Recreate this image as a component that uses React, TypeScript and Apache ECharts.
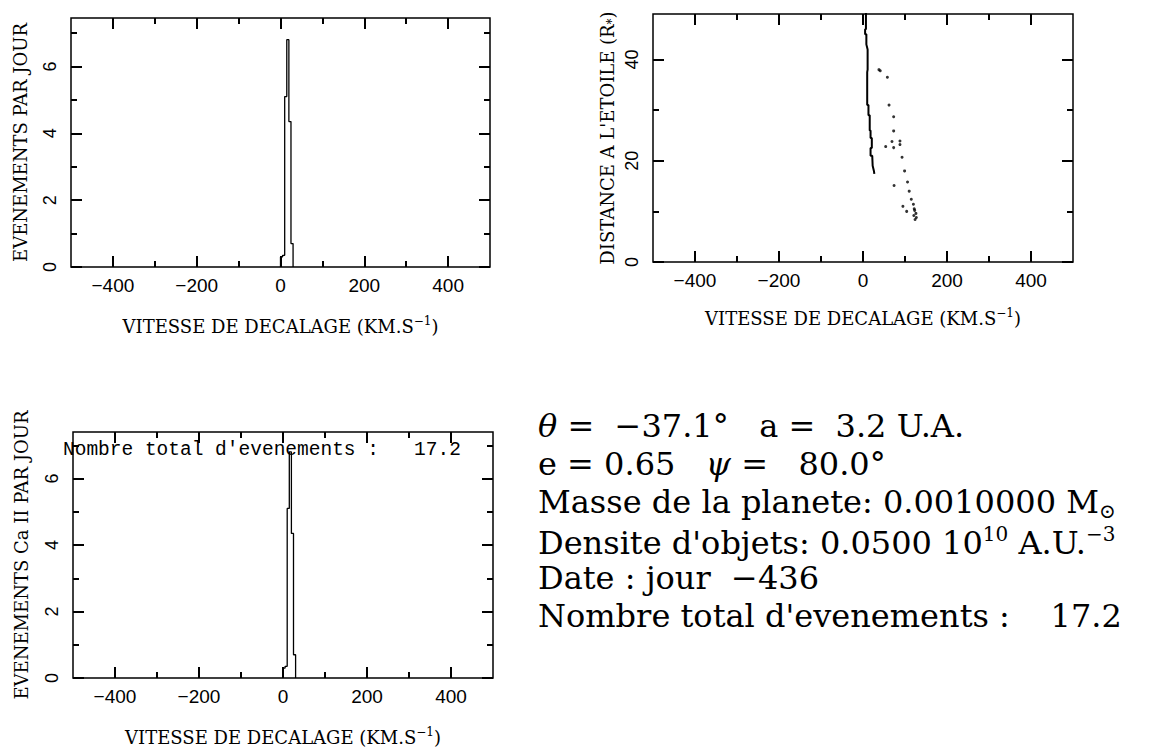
import React, { useEffect, useRef } from "react";
import * as echarts from "echarts";

// ---------- data ----------
const binEdges = [0, 5, 10, 15, 20, 25, 30];
const countsTop = [0.3, 0.35, 5.1, 6.8, 4.35, 0.7];
const countsCaII = [0.3, 0.35, 5.1, 6.8, 4.35, 0.7];

const velocityRange = [-500, 500];
const eventRange = [0, 7.45];
const eventRangeCaII = [0, 7.4];
const distanceRange = [0, 49];

const velocityMajorTicks = [-400, -200, 0, 200, 400];
const velocityMinorTicks = [-300, -100, 100, 300];
const eventMajorTicks = [0, 2, 4, 6];
const eventMinorTicks = [1, 3, 5, 7];
const distanceMajorTicks = [0, 20, 40];
const distanceMinorTicks = [10, 30];

// dense track of points (velocity km/s, distance R*)
const trackVelocity = [7, 7, 5, 5, 8, 8, 11, 11, 10, 10, 13, 13, 16, 16, 18, 18, 21, 21, 18, 18, 22, 23, 26, 27];
const trackDistance = [49.3, 46, 46, 45, 45, 43, 42, 38, 37.5, 31, 31, 29, 29, 26, 26, 24.5, 24.5, 22.5, 22.5, 21, 21, 19, 18, 17.4];

// isolated points
const dotVelocity = [38, 41, 58, 62, 73, 73, 54, 69, 73, 88, 88, 93, 99, 74, 106, 110, 115, 95, 120, 104, 123, 126, 121, 127, 124, 122];
const dotDistance = [38, 37.8, 36.5, 31, 28.7, 25.9, 22.8, 23.8, 22.6, 23.9, 23.2, 20.7, 18, 15.1, 15.8, 14, 12.4, 11, 11.4, 10, 10.2, 9.6, 9.2, 8.8, 8.4, 10.5];

const infoLines = [
  "{it|θ} =  −37.1°   a =  3.2 U.A.",
  "e = 0.65   {it|ψ} =   80.0°",
  "Masse de la planete: 0.0010000 M{sub|⊙}",
  "Densite d'objets: 0.0500 10{sup|10} A.U.{sup|−3}",
  "Date : jour  −436",
  "Nombre total d'evenements :    17.2",
];
const insetText = "Nombre total d'evenements :   17.2";

// ---------- layout ----------
const gridBoxes = [
  { left: 71, top: 18, width: 419, height: 249 },
  { left: 653, top: 14, width: 420, height: 248 },
  { left: 73, top: 432, width: 420, height: 246 },
];

// ---------- helpers ----------
const BLACK = "#000";
const tickFont = "Liberation Sans";
const titleFont = "DejaVu Serif";
const MAJOR_LEN = 11;
const MINOR_LEN = 6;
const TICK_W = 2;

function stepPoints(edges: number[], counts: number[]) {
  const pts: number[][] = [[edges[0], 0]];
  counts.forEach((c, i) => {
    pts.push([edges[i], c]);
    pts.push([edges[i + 1], c]);
  });
  pts.push([edges[edges.length - 1], 0]);
  return pts;
}

const fmt = (v: number) => (v < 0 ? "−" + Math.abs(v) : String(v));

const titleRich = {
  sup: { fontSize: 12, fontFamily: titleFont, color: BLACK, verticalAlign: "top", lineHeight: 22 },
  sub: { fontSize: 12, fontFamily: titleFont, color: BLACK, verticalAlign: "bottom", lineHeight: 22 },
};

function xAxesFor(grid: number, name: string, nameGap: number) {
  const tick = { show: true, inside: true, length: MAJOR_LEN, customValues: velocityMajorTicks, lineStyle: { color: BLACK, width: TICK_W } };
  return [
    {
      type: "value",
      gridIndex: grid,
      min: velocityRange[0],
      max: velocityRange[1],
      position: "bottom",
      splitLine: { show: false },
      axisLine: { show: false, onZero: false },
      axisTick: tick,
      axisLabel: { show: true, customValues: velocityMajorTicks, formatter: fmt, margin: 9, color: BLACK, fontFamily: tickFont, fontSize: 19 },
      name,
      nameLocation: "middle",
      nameGap,
      nameTextStyle: { fontFamily: titleFont, fontSize: 18, color: BLACK, rich: titleRich },
    },
    {
      type: "value",
      gridIndex: grid,
      min: velocityRange[0],
      max: velocityRange[1],
      position: "top",
      splitLine: { show: false },
      axisLine: { show: false, onZero: false },
      axisTick: tick,
      axisLabel: { show: false },
    },
  ];
}

function yAxesFor(grid: number, range: number[], majors: number[], name: string, nameGap: number) {
  const tick = { show: true, inside: true, length: MAJOR_LEN, customValues: majors, lineStyle: { color: BLACK, width: TICK_W } };
  return [
    {
      type: "value",
      gridIndex: grid,
      min: range[0],
      max: range[1],
      position: "left",
      splitLine: { show: false },
      axisLine: { show: false, onZero: false },
      axisTick: tick,
      axisLabel: { show: true, customValues: majors, rotate: 90, margin: 12, color: BLACK, fontFamily: tickFont, fontSize: 18 },
      name,
      nameLocation: "middle",
      nameRotate: 90,
      nameGap,
      nameTextStyle: { fontFamily: titleFont, fontSize: 18, color: BLACK, rich: titleRich },
    },
    {
      type: "value",
      gridIndex: grid,
      min: range[0],
      max: range[1],
      position: "right",
      splitLine: { show: false },
      axisLine: { show: false, onZero: false },
      axisTick: tick,
      axisLabel: { show: false },
    },
  ];
}

// minor inward ticks on all four sides, as mark lines in data coordinates
function minorTicks(grid: number, yRange: number[], yMinors: number[]) {
  const box = gridBoxes[grid];
  const xSpan = velocityRange[1] - velocityRange[0];
  const ySpan = yRange[1] - yRange[0];
  const segs: any[] = [];
  const dy = (MINOR_LEN / box.height) * ySpan;
  const dx = (MINOR_LEN / box.width) * xSpan;
  velocityMinorTicks.forEach((v) => {
    segs.push([{ coord: [v, yRange[0]] }, { coord: [v, yRange[0] + dy] }]);
    segs.push([{ coord: [v, yRange[1]] }, { coord: [v, yRange[1] - dy] }]);
  });
  yMinors.forEach((v) => {
    segs.push([{ coord: [velocityRange[0], v] }, { coord: [velocityRange[0] + dx, v] }]);
    segs.push([{ coord: [velocityRange[1], v] }, { coord: [velocityRange[1] - dx, v] }]);
  });
  return {
    silent: true,
    symbol: ["none", "none"],
    label: { show: false },
    lineStyle: { color: BLACK, width: TICK_W, type: "solid" },
    data: segs,
  };
}

export default function App() {
  const ref = useRef<HTMLDivElement>(null);

  useEffect(() => {
    if (!ref.current) return;
    const chart = echarts.init(ref.current, undefined, { renderer: "svg" });

    const track = trackVelocity.map((v, i) => [v, trackDistance[i]]);
    const dots = dotVelocity.map((v, i) => [v, dotDistance[i]]);

    const infoRich = {
      it: { fontFamily: titleFont, fontStyle: "italic", fontSize: 32, fill: BLACK },
      sup: { fontFamily: titleFont, fontSize: 20, fill: BLACK, verticalAlign: "top", lineHeight: 38 },
      sub: { fontFamily: titleFont, fontSize: 20, fill: BLACK, verticalAlign: "bottom", lineHeight: 38 },
    };

    const option: any = {
      animation: false,
      grid: gridBoxes.map((b) => ({ ...b, show: true, borderColor: BLACK, borderWidth: 1.5 })),
      xAxis: [
        ...xAxesFor(0, "VITESSE DE DECALAGE (KM.S{sup|−1})", 48),
        ...xAxesFor(1, "VITESSE DE DECALAGE (KM.S{sup|−1})", 45),
        ...xAxesFor(2, "VITESSE DE DECALAGE (KM.S{sup|−1})", 48),
      ],
      yAxis: [
        ...yAxesFor(0, eventRange, eventMajorTicks, "EVENEMENTS PAR JOUR", 42),
        ...yAxesFor(1, distanceRange, distanceMajorTicks, "DISTANCE A L'ETOILE (R{sub|*})", 35),
        ...yAxesFor(2, eventRangeCaII, eventMajorTicks, "EVENEMENTS Ca II PAR JOUR", 43),
      ],
      series: [
        {
          type: "line",
          xAxisIndex: 0,
          yAxisIndex: 0,
          data: stepPoints(binEdges, countsTop),
          symbol: "none",
          lineStyle: { color: BLACK, width: 1.3 },
          markLine: minorTicks(0, eventRange, eventMinorTicks),
        },
        {
          type: "line",
          xAxisIndex: 2,
          yAxisIndex: 2,
          data: track,
          symbol: "none",
          lineStyle: { color: BLACK, width: 2 },
          markLine: minorTicks(1, distanceRange, distanceMinorTicks),
        },
        {
          type: "scatter",
          xAxisIndex: 2,
          yAxisIndex: 2,
          data: dots,
          symbol: "circle",
          symbolSize: 3,
          itemStyle: { color: BLACK },
        },
        {
          type: "line",
          xAxisIndex: 4,
          yAxisIndex: 4,
          data: stepPoints(binEdges, countsCaII),
          symbol: "none",
          lineStyle: { color: BLACK, width: 1.3 },
          markLine: minorTicks(2, eventRangeCaII, eventMinorTicks),
        },
      ],
      graphic: [
        {
          type: "text",
          left: 63,
          top: 440,
          z: 10,
          style: { text: insetText, font: "19.5px 'Liberation Mono'", fill: BLACK },
        },
        ...infoLines.map((t, i) => ({
          type: "text",
          left: 538,
          top: 410 + i * 38,
          style: { text: t, font: "32px 'DejaVu Serif'", fill: BLACK, rich: infoRich },
        })),
      ],
    };

    chart.setOption(option);
    return () => chart.dispose();
  }, []);

  return (
    <div
      ref={ref}
      style={{ position: "absolute", left: 0, top: 0, width: 1149, height: 751, background: "#fff" }}
    />
  );
}
